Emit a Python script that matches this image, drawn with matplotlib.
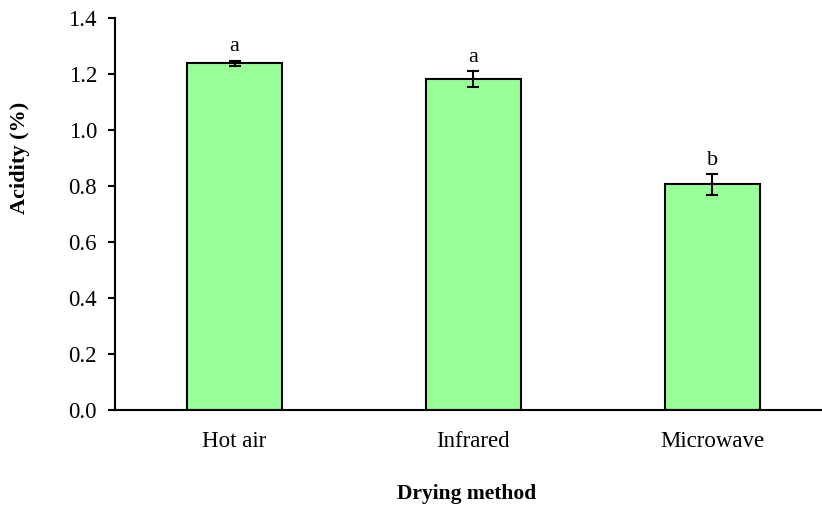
import matplotlib.pyplot as plt

methods = ['Hot air', 'Infrared', 'Microwave']
acidity = [1.237, 1.180, 0.805]
errors = [0.010, 0.028, 0.036]
letters = ['a', 'a', 'b']

plt.rcParams['font.family'] = ['Liberation Serif', 'DejaVu Serif']

fig = plt.figure(figsize=(8.22, 5.2), dpi=100)
ax = fig.add_axes([0.14, 0.2115, 0.872, 0.7545])

x = range(len(methods))
ax.bar(x, acidity, width=0.4, color='#99ff99', edgecolor='black', linewidth=1.5,
       yerr=errors, capsize=4.3, error_kw=dict(elinewidth=1.5, capthick=1.5, ecolor='black'))

for i, (v, e, l) in enumerate(zip(acidity, errors, letters)):
    ax.annotate(l, (i, v + e), xytext=(0, 3), textcoords='offset points',
                ha='center', va='bottom', fontsize=16)

ax.set_xlim(-0.5, 2.5)
ax.set_ylim(0, 1.4)
ax.set_yticks([0, 0.2, 0.4, 0.6, 0.8, 1.0, 1.2, 1.4])
ax.set_yticklabels(['%.1f' % t for t in ax.get_yticks()])
ax.set_xticks(list(x))
ax.set_xticklabels(methods)
ax.tick_params(axis='y', direction='out', length=5, width=1.5, labelsize=16.5, pad=8)
ax.tick_params(axis='x', length=0, labelsize=16.5, pad=15)

for s in ['top', 'right']:
    ax.spines[s].set_visible(False)
for s in ['left', 'bottom']:
    ax.spines[s].set_linewidth(1.5)

fig.text(20 / 822, 1 - 158 / 520, 'Acidity (%)', rotation=90, ha='center', va='center',
         fontsize=16, fontweight='bold')
fig.text(467 / 822, 1 - 494 / 520, 'Drying method', ha='center', va='center',
         fontsize=15.5, fontweight='bold')

fig.savefig('out.png', dpi=100)
